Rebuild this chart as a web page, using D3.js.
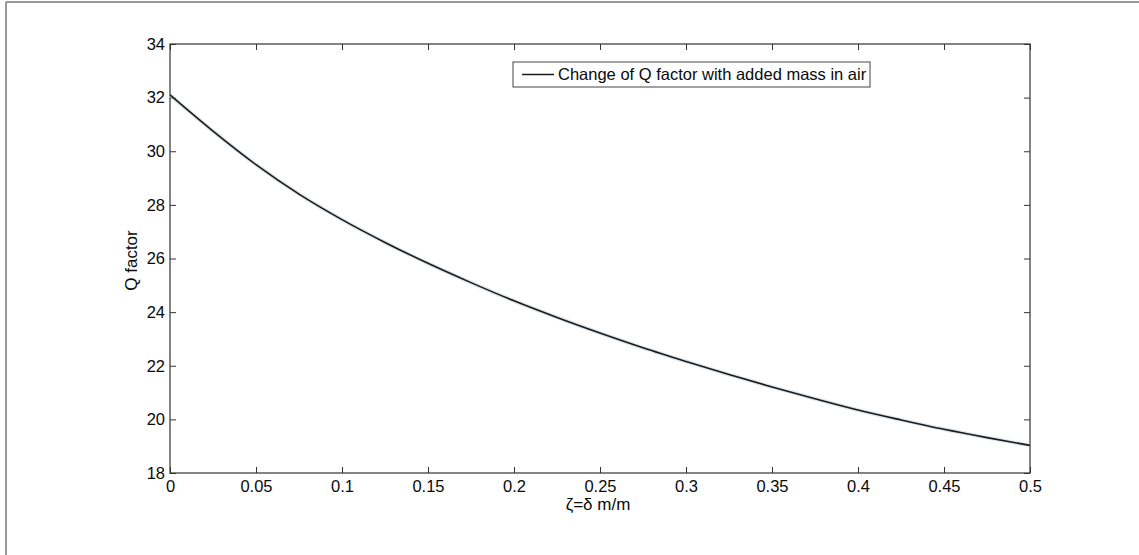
<!DOCTYPE html>
<html>
<head>
<meta charset="utf-8">
<script src="https://cdn.jsdelivr.net/npm/d3@7/dist/d3.min.js"></script>
<style>
  html, body { margin: 0; padding: 0; background: #fff; }
  svg { display: block; font-family: Arial, "Liberation Sans", sans-serif; }
</style>
</head>
<body>
<svg id="chart" width="1139" height="555"></svg>
<script>
// Mass ratio ζ = δm/m and the resulting Q factor
const zeta = [0, 0.025, 0.05, 0.075, 0.1, 0.125, 0.15, 0.175, 0.2, 0.225, 0.25, 0.275, 0.3, 0.325, 0.35, 0.375, 0.4, 0.425, 0.45, 0.475, 0.5];
const qFactor = [32.1, 30.75, 29.5, 28.4, 27.45, 26.6, 25.82, 25.1, 24.42, 23.8, 23.22, 22.67, 22.16, 21.67, 21.21, 20.77, 20.35, 19.98, 19.63, 19.32, 19.03];

const xTicks = [0, 0.05, 0.1, 0.15, 0.2, 0.25, 0.3, 0.35, 0.4, 0.45, 0.5];
const yTicks = [18, 20, 22, 24, 26, 28, 30, 32, 34];
const legendLabel = "Change of Q factor with added mass in air";
const xTitle = "ζ=δ m/m";
const yTitle = "Q factor";

const svg = d3.select("#chart");
const plot = { left: 170, top: 44, right: 1030, bottom: 473 };
const fontSize = "16.5px";
const titleSize = "17px";
const textColor = "#0a0a0a";

const x = d3.scaleLinear().domain([0, 0.5]).range([plot.left, plot.right]);
const y = d3.scaleLinear().domain([18, 34]).range([plot.bottom, plot.top]);

// page frame lines
svg.append("line").attr("x1", 6).attr("x2", 6).attr("y1", 2).attr("y2", 555)
  .attr("stroke", "#777").attr("stroke-width", 1.5);
svg.append("line").attr("x1", 6).attr("x2", 1139).attr("y1", 2).attr("y2", 2)
  .attr("stroke", "#777").attr("stroke-width", 1.5);

const axisColor = "#333";
const tickLen = 6;

function styleAxis(g) {
  g.select(".domain").remove();
  g.selectAll(".tick line").attr("stroke", axisColor).attr("stroke-width", 1);
  g.selectAll(".tick text").attr("fill", textColor).style("font-size", fontSize);
}

// bottom and left axes with labels, ticks pointing inward
svg.append("g").attr("transform", `translate(0,${plot.bottom})`)
  .call(d3.axisBottom(x).tickValues(xTicks).tickFormat(d => d3.format("")(d)).tickSizeInner(-tickLen).tickSizeOuter(0).tickPadding(7))
  .call(styleAxis);
svg.append("g").attr("transform", `translate(${plot.left},0)`)
  .call(d3.axisLeft(y).tickValues(yTicks).tickFormat(d3.format("d")).tickSizeInner(-tickLen).tickSizeOuter(0).tickPadding(5))
  .call(styleAxis);

// top and right axes mirror the ticks without labels
svg.append("g").attr("transform", `translate(0,${plot.top})`)
  .call(d3.axisTop(x).tickValues(xTicks).tickFormat("").tickSizeInner(-tickLen).tickSizeOuter(0))
  .call(styleAxis);
svg.append("g").attr("transform", `translate(${plot.right},0)`)
  .call(d3.axisRight(y).tickValues(yTicks).tickFormat("").tickSizeInner(-tickLen).tickSizeOuter(0))
  .call(styleAxis);

// plot box
svg.append("rect")
  .attr("x", plot.left).attr("y", plot.top)
  .attr("width", plot.right - plot.left).attr("height", plot.bottom - plot.top)
  .attr("fill", "none").attr("stroke", axisColor).attr("stroke-width", 1.2);

// curve with a faint halo
const line = d3.line().x((d, i) => x(zeta[i])).y(d => y(d)).curve(d3.curveMonotoneX);
svg.append("path").datum(qFactor)
  .attr("d", line)
  .attr("fill", "none").attr("stroke", "#c9d3dc").attr("stroke-width", 4).attr("opacity", 0.6);
svg.append("path").datum(qFactor)
  .attr("d", line)
  .attr("fill", "none").attr("stroke", "#1a1a1a").attr("stroke-width", 1.6);

// legend
const lg = svg.append("g");
lg.append("rect").attr("x", 513).attr("y", 62).attr("width", 357).attr("height", 25)
  .attr("fill", "#fff").attr("stroke", "#444").attr("stroke-width", 1);
lg.append("line").attr("x1", 522).attr("x2", 554).attr("y1", 74.5).attr("y2", 74.5)
  .attr("stroke", "#1a1a1a").attr("stroke-width", 1.5);
lg.append("text").attr("x", 558).attr("y", 80).style("font-size", fontSize).attr("fill", textColor)
  .text(legendLabel);

// axis titles
svg.append("text").attr("x", 598).attr("y", 510).attr("text-anchor", "middle")
  .style("font-size", titleSize).attr("fill", textColor).text(xTitle);
svg.append("text").attr("transform", `translate(137,${(plot.top + plot.bottom) / 2 + 2}) rotate(-90)`)
  .attr("text-anchor", "middle").style("font-size", titleSize).attr("fill", textColor).text(yTitle);
</script>
</body>
</html>
